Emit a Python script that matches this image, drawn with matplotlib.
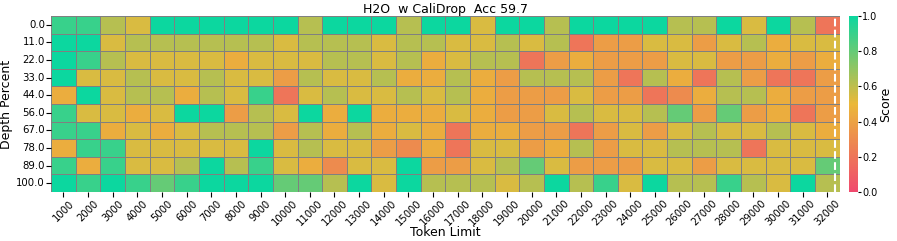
import numpy as np
import matplotlib
matplotlib.use("Agg")
from matplotlib import pyplot as plt
from matplotlib.colors import LinearSegmentedColormap
import seaborn as sns

token_limits = [1000 * (i + 1) for i in range(32)]
depth_percents = [0.0, 11.0, 22.0, 33.0, 44.0, 56.0, 67.0, 78.0, 89.0, 100.0]

# score levels
T, G, L, O, Y, A, D, P, R = 1.0, 0.9, 0.8, 0.62, 0.54, 0.45, 0.38, 0.3, 0.2

row_00 = [G, G, O, Y, T, T, T, T, T, T, O, T, T, T, O, T, T, Y, T, T, O, T, T, T, T, O, O, T, Y, T, O, R]
row_11 = [T, T, Y, O, O, O, O, O, O, Y, O, O, O, Y, O, O, Y, Y, O, Y, O, R, D, D, Y, Y, D, Y, O, A, Y, Y]
row_22 = [T, G, O, Y, Y, Y, Y, A, Y, Y, Y, O, O, Y, O, A, Y, O, O, R, D, A, D, D, D, Y, Y, D, D, A, D, A]
row_33 = [T, Y, Y, O, Y, Y, O, Y, Y, D, O, Y, Y, O, A, A, O, A, D, O, O, O, D, R, O, A, R, O, D, R, R, D]
row_44 = [A, T, Y, O, O, A, O, Y, G, R, Y, O, Y, Y, O, Y, O, A, D, D, D, Y, D, D, R, P, A, O, O, A, D, D]
row_56 = [G, Y, Y, A, Y, T, T, D, O, Y, T, A, T, A, A, A, Y, A, D, D, Y, O, Y, Y, O, L, D, L, D, A, R, D]
row_67 = [G, G, A, Y, A, Y, O, O, O, D, O, A, O, A, Y, A, R, A, A, D, D, R, D, Y, D, Y, O, Y, Y, O, Y, A]
row_78 = [A, G, G, Y, Y, Y, Y, Y, T, Y, O, Y, Y, D, P, A, R, Y, Y, D, A, O, D, Y, Y, O, O, O, R, Y, Y, Y]
row_89 = [G, A, G, Y, Y, O, T, O, G, Y, A, P, Y, Y, T, D, D, Y, O, L, Y, D, D, D, Y, Y, D, Y, Y, Y, Y, L]
row_100 = [T, G, T, G, L, G, T, T, T, L, L, O, T, Y, T, O, O, O, Y, O, T, O, G, Y, T, O, O, G, O, Y, T, O]

scores = np.array([row_00, row_11, row_22, row_33, row_44, row_56, row_67, row_78, row_89, row_100])

cmap = LinearSegmentedColormap.from_list("custom_cmap", ["#F0496E", "#EBB839", "#0CD79F"])

fig = plt.figure(figsize=(8.97, 2.41), dpi=100)
ax = fig.add_axes([0.057, 0.203, 0.879, 0.731])
cax = fig.add_axes([0.947, 0.203, 0.009, 0.731])

sns.heatmap(scores, ax=ax, cbar_ax=cax, cmap=cmap, vmin=0, vmax=1,
            linewidths=0.5, linecolor="grey",
            xticklabels=token_limits, yticklabels=depth_percents,
            cbar_kws={"label": "Score"})

ax.axvline(x=31.8, color="white", linestyle="--", linewidth=1.5)

ax.set_title("H2O  w CaliDrop  Acc 59.7", fontsize=9, pad=2)
ax.set_xlabel("Token Limit", fontsize=9, labelpad=-1)
ax.set_ylabel("Depth Percent", fontsize=9, labelpad=2)
ax.tick_params(axis="x", labelsize=7.2, rotation=45, pad=1)
ax.tick_params(axis="y", labelsize=7.3, rotation=0, pad=1)
cax.tick_params(labelsize=7, pad=1, length=2.5)
cax.set_ylabel("Score", fontsize=9, labelpad=1)

plt.savefig("out.png", dpi=100)
